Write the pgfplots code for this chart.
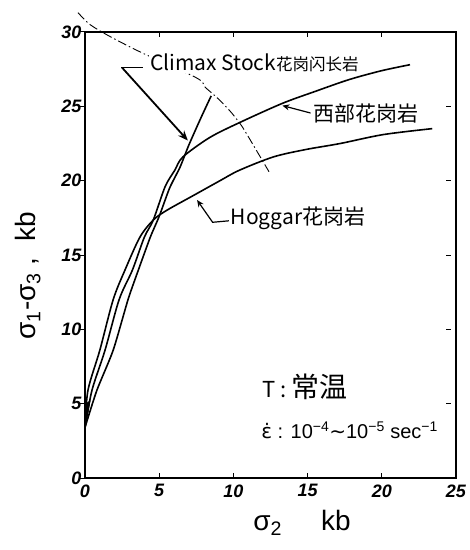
\documentclass[border=0pt]{standalone}
\usepackage{pgfplots}
\pgfplotsset{compat=1.18}
\usepackage{fontspec}
\setmainfont{Liberation Sans}
\newfontfamily\cjk{Noto Sans CJK SC}
\newfontfamily\dejavu{DejaVu Sans}
\usetikzlibrary{arrows.meta}
\begin{document}
\begin{tikzpicture}[x=1pt,y=1pt]
\useasboundingbox (0,0) rectangle (470,550);
\begin{axis}[
  at={(85pt,72pt)}, anchor=south west,
  scale only axis, width=371pt, height=446pt,
  xmin=0, xmax=25, ymin=0, ymax=30,
  xtick={0,5,10,15,20,25}, ytick={0,5,10,15,20,25,30},
  axis line style={line width=1.3pt},
  tick align=inside,
  major tick length=5pt,
  tick style={line width=1pt, black},
  ytick style={xshift=-5pt},
  /pgf/number format/assume math mode=true,
  xticklabel style={font=\fontsize{18}{18}\selectfont\bfseries\itshape, yshift=-3pt},
  yticklabel style={font=\fontsize{18}{18}\selectfont\bfseries\itshape},
  xlabel={σ\textsubscript{2}\hspace{1.4em}kb},
  xlabel style={at={(axis description cs:0.585,-0.101)}, anchor=center, font=\fontsize{28}{28}\selectfont},
  ylabel={σ\textsubscript{1}-σ\textsubscript{3} ,\ \ kb},
  ylabel style={at={(axis description cs:-0.154,0.453)}, anchor=center, rotate=0, font=\fontsize{28}{28}\selectfont},
  clip=false,
]
% Hoggar granite
\addplot[line width=1.6pt, smooth, tension=0.5] coordinates {
(0,3.4)(0.2,5.9)(1.0,8.6)(1.9,12.0)(2.7,14.0)(3.7,16.2)(4.6,17.35)(5.5,18.0)(7.3,19.0)(9.1,20.0)(10.4,20.7)(12.7,21.6)(14.9,22.1)(17.2,22.5)(20.1,23.1)(23.4,23.5)};
% Western granite
\addplot[line width=1.6pt, smooth, tension=0.5] coordinates {
(0,3.4)(0.47,5.9)(1.35,8.6)(2.3,12.0)(3.2,14.0)(4.0,16.2)(4.6,17.35)(5.4,19.6)(6.05,20.7)(6.6,21.6)(8.4,22.9)(10.4,23.9)(13.3,25.2)(15.5,26.0)(17.8,26.8)(20,27.4)(21.9,27.8)};
% Climax Stock granodiorite
\addplot[line width=1.6pt, smooth, tension=0.4] coordinates {
(0,3.4)(0.8,5.9)(1.9,8.6)(2.9,12.0)(3.6,14.0)(4.4,16.2)(5.0,17.6)(5.7,19.5)(6.4,20.9)(7.0,22.4)(7.8,24.2)(8.5,25.7)};
% dash-dot envelope
\addplot[line width=0.9pt, smooth, dash pattern=on 9pt off 3pt on 1.5pt off 3pt] coordinates {
(-0.47,31.3)(0.34,30.5)(1.68,29.7)(3.84,28.6)(7.54,26.9)(8.08,26.3)(8.88,25.6)(9.76,24.7)(10.4,23.9)(10.8,23.3)(12.4,20.6)};
% wedge at start
\addplot[fill=black, draw=black] coordinates {(0,3.2)(0.35,5.2)(0.05,5.0)(0,3.2)};
% annotations
\draw[line width=1.2pt] (axis cs:3.9,27.6) -- (axis cs:2.4,27.6);
\draw[line width=1.8pt, -{Stealth[length=10pt,width=8pt]}] (axis cs:2.5,27.6) -- (axis cs:6.93,22.7);
\node[anchor=west, fill=white, inner sep=1pt, font=\cjk] at (axis cs:4.3,27.9) {\fontsize{21}{21}\selectfont Climax Stock\fontsize{16.5}{16.5}\selectfont 花岗闪长岩};
\draw[line width=1.2pt, -{Stealth[length=7pt,width=6pt]}] (axis cs:15.2,24.55) -- (axis cs:13.3,25.05);
\node[anchor=west, inner sep=1pt, font=\cjk\fontsize{21}{21}\selectfont] at (axis cs:15.3,24.5) {西部花岗岩};
\draw[line width=1.2pt, -{Stealth[length=7pt,width=6pt]}] (axis cs:9.7,17.3) -- (axis cs:8.6,17.2) -- (axis cs:7.55,18.7);
\node[anchor=west, inner sep=1pt, font=\cjk\fontsize{21}{21}\selectfont] at (axis cs:9.75,17.5) {Hoggar花岗岩};
\node[anchor=west, inner sep=1pt, font=\cjk] at (axis cs:11.9,6.1) {\fontsize{22}{22}\selectfont T : \fontsize{28}{28}\selectfont 常温};
\node[anchor=west, inner sep=1pt, font=\fontsize{20}{20}\selectfont] at (axis cs:11.8,3.2) {{\dejavu ε̇} : 10\textsuperscript{−4}{\dejavu ∼}10\textsuperscript{−5} sec\textsuperscript{−1}};
\end{axis}
\end{tikzpicture}
\end{document}
